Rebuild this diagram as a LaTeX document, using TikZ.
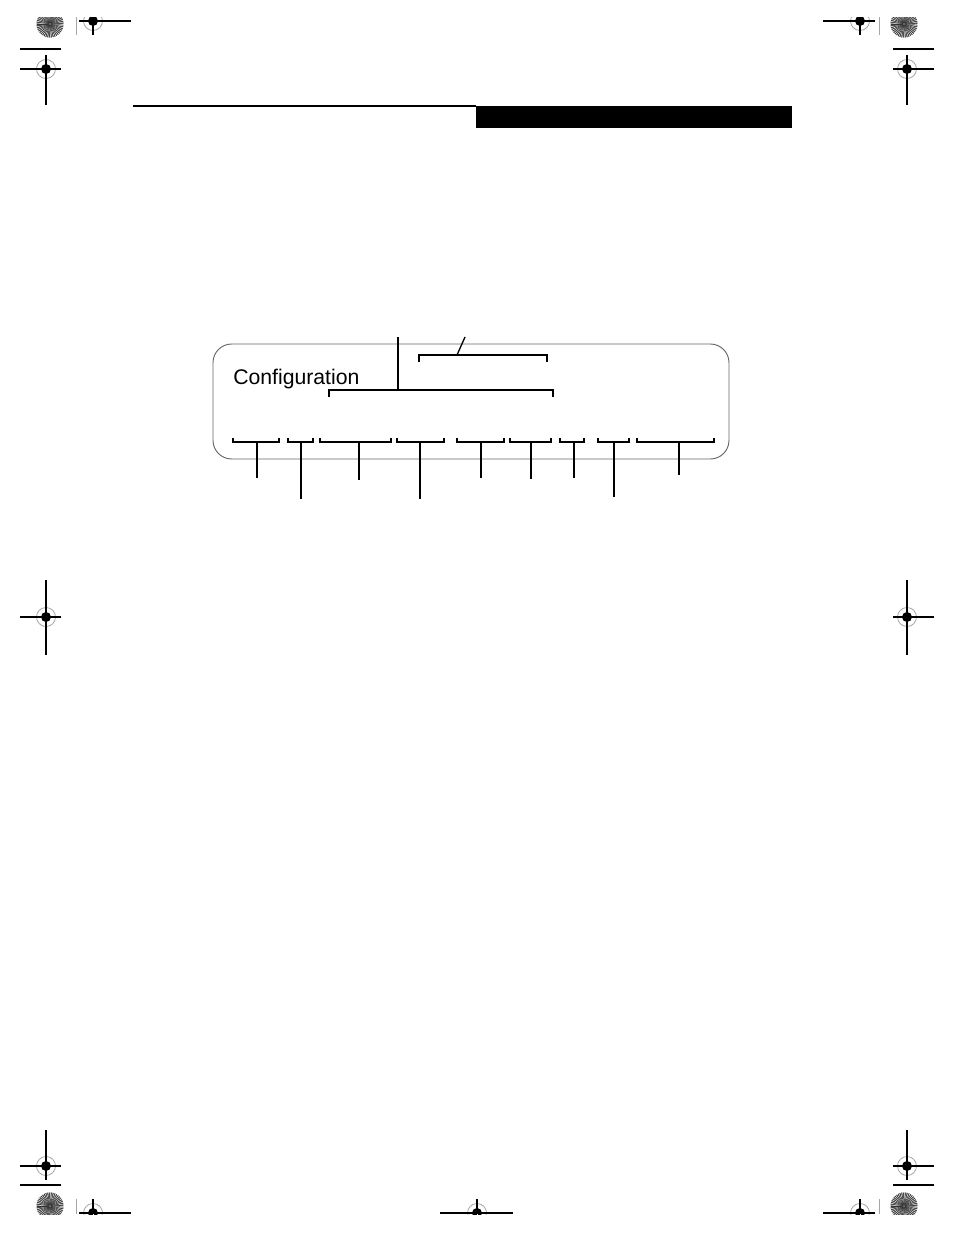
\documentclass[tikz,border=0pt]{standalone}
\usepackage{fontspec}
\setmainfont{Liberation Sans}
\begin{document}
\begin{tikzpicture}[x=0.75pt,y=-0.75pt,
  callout/.style={line width=1pt,black},
  panel/.style={draw=black!60,line width=0.7pt,rounded corners=14pt},
  hair/.style={line width=0.9pt,black},
  faint/.style={line width=0.5pt,black!35},
  lbl/.style={inner sep=0pt,anchor=base west,font=\fontsize{15.9}{19}\selectfont}]
\useasboundingbox (0,0) rectangle (954,1235);
% ---------- printer marks ----------
\newcommand\regmark[1]{%
  \begin{scope}[shift={#1}]
    \draw[faint,line width=0.6pt] (0,0) circle (9.5);
    \fill (0,0) circle (5);
    \draw[white,line width=0.5pt] (-5,0) -- (5,0) (0,-5) -- (0,5);
  \end{scope}}
\newcommand\sunburst[1]{%
  \begin{scope}[shift={#1}]
    \fill[black!62] (0,0) circle (13.5);
    \foreach \a in {0,8,...,352} \draw[white,line width=0.35pt] (0,0) -- (\a:13.5);
    \foreach \a in {4,12,...,356} \draw[black!80,line width=0.35pt] (0:0) -- (\a:13.5);
    \fill[black!60] (0,0) circle (1.5);
  \end{scope}}
% top strip, clipped
\begin{scope}
  \clip (0,17) rectangle (954,60);
  \sunburst{(50,24)}
  \sunburst{(904,24)}
  \regmark{(93,21)}
  \regmark{(860,21)}
\end{scope}
\draw[hair] (79,21) -- (131,21) (93,17) -- (93,35);
\draw[hair] (823,21) -- (875,21) (860,17) -- (860,35);
\draw[faint] (76,17) -- (76,35) (879,17) -- (879,35);
% bottom strip, clipped
\begin{scope}
  \clip (0,1180) rectangle (954,1214);
  \sunburst{(50,1206)}
  \sunburst{(904,1206)}
  \regmark{(93,1213)}
  \regmark{(477,1213)}
  \regmark{(860,1213)}
\end{scope}
\draw[hair] (79,1213) -- (131,1213) (93,1199) -- (93,1214);
\draw[hair] (440,1213) -- (513,1213) (477,1199) -- (477,1214);
\draw[hair] (823,1213) -- (875,1213) (860,1199) -- (860,1214);
\draw[faint] (76,1199) -- (76,1214) (879,1199) -- (879,1214);
% side crosshairs
\regmark{(46,69)} \draw[hair] (20,69) -- (61,69) (46,55) -- (46,105) (20,49) -- (61,49);
\regmark{(907,69)} \draw[hair] (893,69) -- (934,69) (907,55) -- (907,105) (893,49) -- (934,49);
\regmark{(46,617)} \draw[hair] (20,617) -- (61,617) (46,580) -- (46,655);
\regmark{(907,617)} \draw[hair] (893,617) -- (934,617) (907,580) -- (907,655);
\regmark{(46,1166)} \draw[hair] (20,1166) -- (61,1166) (46,1130) -- (46,1180) (20,1185) -- (61,1185);
\regmark{(907,1166)} \draw[hair] (893,1166) -- (934,1166) (907,1130) -- (907,1180) (893,1185) -- (934,1185);
% ---------- header ----------
\draw[line width=0.8pt] (133,106) -- (476,106);
\fill (476,106) rectangle (792,128);
% ---------- panel ----------
\draw[panel] (213,344) rectangle (729,459);
\node[lbl] (cfg) at (233,384) {Configuration};
% upper brackets
\coordinate (tb) at (398,337);
\draw[callout] (tb) -- (398,390);
\draw[callout] (329,397) -- (329,390) -- (553,390) -- (553,397);
\draw[callout] (419,362) -- (419,355) -- (547,355) -- (547,362);
\draw[callout] (457,355) -- (465,337);
% lower brackets: left, right, stem x, stem end
\foreach \l/\r/\s/\e in {233/279/257/478, 288/313/301/499, 320/391/359/480, 397/444/420/499,
  457/504/481/478, 510/551/531/479, 560/584/574/478, 598/629/614/497, 637/714/679/475}{
  \draw[callout] (\l,438) -- (\l,442) -- (\r,442) -- (\r,438);
  \draw[callout] (\s,442) -- (\s,\e);
}
\end{tikzpicture}
\end{document}
